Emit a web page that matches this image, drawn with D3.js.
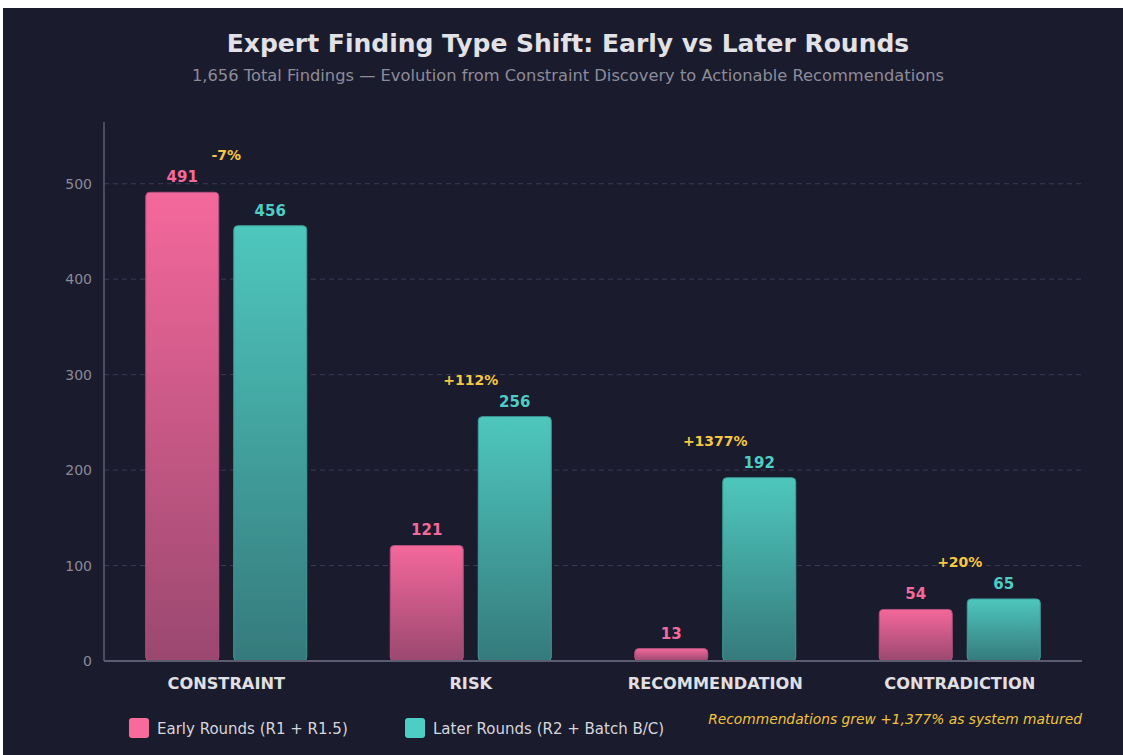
<!DOCTYPE html>
<html>
<head>
<meta charset="utf-8">
<script src="https://cdn.jsdelivr.net/npm/d3@7"></script>
<style>
  html, body { margin: 0; padding: 0; background: #ffffff; }
  svg { display: block; }
  text { font-family: "DejaVu Sans", sans-serif; }
</style>
</head>
<body>
<svg id="chart" width="1123" height="755"></svg>
<script>
// Finding counts per type, early vs later rounds
const categories = ["CONSTRAINT", "RISK", "RECOMMENDATION", "CONTRADICTION"];
const earlyValues = [491, 121, 13, 54];
const laterValues = [456, 256, 192, 65];
const changeLabels = ["-7%", "+112%", "+1377%", "+20%"];
const seriesNames = ["Early Rounds (R1 + R1.5)", "Later Rounds (R2 + Batch B/C)"];
const yTicks = [0, 100, 200, 300, 400, 500];

const W = 1123, H = 755;
const svg = d3.select("#chart");

// panel background
svg.append("rect").attr("x", 3).attr("y", 8).attr("width", W - 3).attr("height", H - 8)
  .attr("fill", "#1b1b2e");

const margin = { left: 104, right: 1082, top: 122, bottom: 661 };

const x0 = d3.scaleBand().domain(categories).range([margin.left, margin.right]).padding(0);
const y = d3.scaleLinear().domain([0, d3.max(earlyValues.concat(laterValues)) * 1.15])
  .range([margin.bottom, margin.top]);

const barW = 73, offset = 44;

// gradients
const defs = svg.append("defs");
function grad(id, top, bottom) {
  const g = defs.append("linearGradient").attr("id", id)
    .attr("x1", 0).attr("y1", 0).attr("x2", 0).attr("y2", 1);
  g.append("stop").attr("offset", "0%").attr("stop-color", top);
  g.append("stop").attr("offset", "100%").attr("stop-color", bottom);
}
grad("gEarly", "#f4689b", "#9a4870");
grad("gLater", "#4ec7bd", "#357a7c");

// title + subtitle
svg.append("text").attr("x", 568).attr("y", 52).attr("text-anchor", "middle")
  .attr("font-size", 25).attr("font-weight", "bold").attr("fill", "#e2e2e6")
  .text("Expert Finding Type Shift: Early vs Later Rounds");
svg.append("text").attr("x", 568).attr("y", 81).attr("text-anchor", "middle")
  .attr("font-size", 16.3).attr("fill", "#8c8c98")
  .text("1,656 Total Findings \u2014 Evolution from Constraint Discovery to Actionable Recommendations");

// grid lines
svg.append("g").selectAll("line").data(yTicks.filter(d => d > 0)).join("line")
  .attr("x1", margin.left).attr("x2", margin.right)
  .attr("y1", d => y(d)).attr("y2", d => y(d))
  .attr("stroke", "#3a3a55").attr("stroke-width", 1).attr("stroke-dasharray", "5,4");

// y axis
const yAxis = svg.append("g").attr("transform", `translate(${margin.left},0)`)
  .call(d3.axisLeft(y).tickValues(yTicks).tickSize(0).tickPadding(12));
yAxis.select(".domain").remove();
yAxis.selectAll("text").attr("fill", "#8a8a96").attr("font-size", 14)
  .attr("font-family", "DejaVu Sans, sans-serif");
svg.append("line").attr("x1", margin.left).attr("x2", margin.left)
  .attr("y1", margin.top).attr("y2", margin.bottom)
  .attr("stroke", "#5c5c70").attr("stroke-width", 1.5);

// bars with value labels
function drawBars(values, dx, fill, stroke, labelColor) {
  svg.append("g").selectAll("rect").data(values).join("rect")
    .attr("x", (d, i) => x0(categories[i]) + x0.bandwidth() / 2 + dx - barW / 2)
    .attr("y", d => y(d))
    .attr("width", barW)
    .attr("height", d => y(0) - y(d))
    .attr("rx", 4)
    .attr("fill", fill)
    .attr("stroke", stroke).attr("stroke-width", 1);
  svg.append("g").selectAll("text").data(values).join("text")
    .attr("x", (d, i) => x0(categories[i]) + x0.bandwidth() / 2 + dx)
    .attr("y", d => y(d) - 10)
    .attr("text-anchor", "middle").attr("font-size", 15).attr("font-weight", "bold")
    .attr("fill", labelColor).text(d => d);
}
drawBars(earlyValues, -offset, "url(#gEarly)", "#b0507c", "#f56a9c");
drawBars(laterValues, offset, "url(#gLater)", "#3f9c98", "#4ecdc4");

// x axis line
svg.append("line").attr("x1", margin.left).attr("x2", margin.right)
  .attr("y1", margin.bottom).attr("y2", margin.bottom)
  .attr("stroke", "#5c5c70").attr("stroke-width", 2);

// category labels
svg.append("g").selectAll("text").data(categories).join("text")
  .attr("x", d => x0(d) + x0.bandwidth() / 2).attr("y", 689)
  .attr("text-anchor", "middle").attr("font-size", 16.2).attr("font-weight", "bold")
  .attr("fill", "#e0e0e4").text(d => d);

// change annotations
svg.append("g").selectAll("text").data(changeLabels).join("text")
  .attr("x", (d, i) => x0(categories[i]) + x0.bandwidth() / 2)
  .attr("y", (d, i) => y(Math.max(earlyValues[i], laterValues[i])) - 32)
  .attr("text-anchor", "middle").attr("font-size", 14).attr("font-weight", "bold")
  .attr("fill", "#f5c842").text(d => d);

// legend
const legendX = [129, 405], legendColors = ["#f76b9c", "#4ecdc4"];
seriesNames.forEach((name, i) => {
  svg.append("rect").attr("x", legendX[i]).attr("y", 718).attr("width", 20).attr("height", 20)
    .attr("rx", 3).attr("fill", legendColors[i]);
  svg.append("text").attr("x", legendX[i] + 28).attr("y", 734)
    .attr("font-size", 15).attr("fill", "#d6d6dc").text(name);
});

// footnote
svg.append("text").attr("x", margin.right).attr("y", 724).attr("text-anchor", "end")
  .attr("font-size", 13.8).attr("font-style", "italic").attr("fill", "#f0c43a")
  .text("Recommendations grew +1,377% as system matured");
</script>
</body>
</html>
